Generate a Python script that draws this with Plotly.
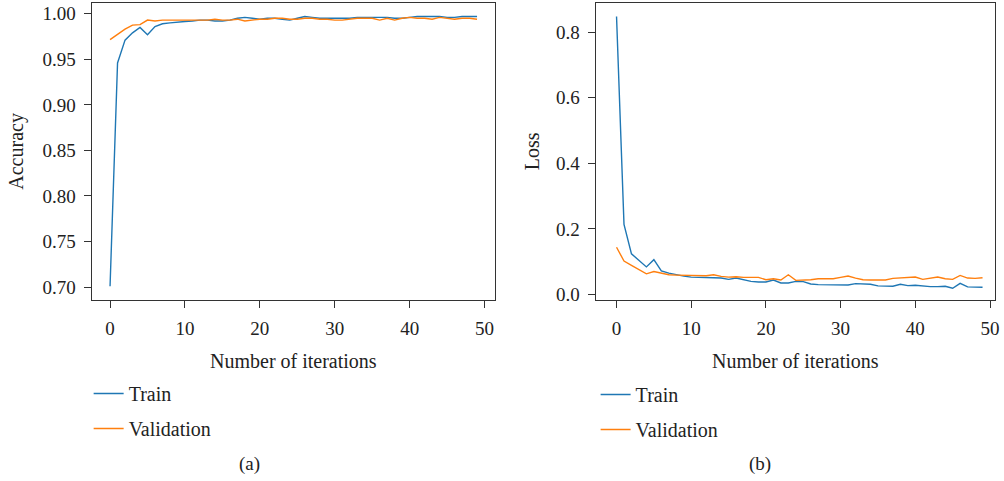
import plotly.graph_objects as go

iterations = list(range(50))

train_acc = [0.701, 0.946, 0.971, 0.979, 0.985, 0.977, 0.986, 0.989, 0.990, 0.991,
             0.9915, 0.992, 0.993, 0.993, 0.992, 0.992, 0.993, 0.995, 0.996, 0.995,
             0.994, 0.995, 0.995, 0.994, 0.993, 0.995, 0.997, 0.996, 0.995, 0.995,
             0.995, 0.995, 0.995, 0.996, 0.996, 0.996, 0.996, 0.996, 0.995, 0.995,
             0.996, 0.997, 0.997, 0.997, 0.997, 0.996, 0.996, 0.997, 0.997, 0.997]
val_acc = [0.9715, 0.977, 0.983, 0.9875, 0.988, 0.993, 0.992, 0.993, 0.993, 0.993,
           0.993, 0.993, 0.993, 0.993, 0.994, 0.993, 0.993, 0.994, 0.992, 0.993,
           0.994, 0.994, 0.995, 0.995, 0.994, 0.994, 0.995, 0.995, 0.994, 0.994,
           0.993, 0.993, 0.994, 0.995, 0.995, 0.995, 0.993, 0.995, 0.993, 0.995,
           0.996, 0.995, 0.995, 0.994, 0.996, 0.995, 0.994, 0.995, 0.995, 0.994]

train_loss = [0.848, 0.214, 0.124, 0.104, 0.084, 0.106, 0.072, 0.065, 0.060, 0.056,
              0.053, 0.053, 0.052, 0.051, 0.050, 0.046, 0.050, 0.045, 0.040, 0.038,
              0.038, 0.044, 0.035, 0.035, 0.040, 0.039, 0.032, 0.030, 0.030, 0.031,
              0.029, 0.029, 0.033, 0.031, 0.031, 0.026, 0.025, 0.025, 0.031, 0.027,
              0.028, 0.025, 0.024, 0.024, 0.025, 0.019, 0.034, 0.023, 0.022, 0.022]
val_loss = [0.144, 0.102, 0.089, 0.076, 0.063, 0.070, 0.065, 0.060, 0.059, 0.059,
            0.058, 0.058, 0.057, 0.060, 0.055, 0.053, 0.054, 0.052, 0.052, 0.052,
            0.045, 0.048, 0.044, 0.060, 0.043, 0.043, 0.045, 0.048, 0.048, 0.048,
            0.052, 0.056, 0.050, 0.045, 0.044, 0.044, 0.044, 0.049, 0.050, 0.052,
            0.053, 0.046, 0.050, 0.053, 0.048, 0.046, 0.058, 0.050, 0.049, 0.051]

acc_ticks = [0.70, 0.75, 0.80, 0.85, 0.90, 0.95, 1.00]
loss_ticks = [0.0, 0.2, 0.4, 0.6, 0.8]
x_ticks = [0, 10, 20, 30, 40, 50]

BLUE = "#1f77b4"
ORANGE = "#ff7f0e"
AX = "#333333"
FONT = "Liberation Serif"

W, H = 1004, 481

fig = go.Figure()

fig.add_trace(go.Scatter(x=iterations, y=train_acc, mode="lines", name="Train",
                         line=dict(color=BLUE, width=1.4), xaxis="x", yaxis="y",
                         legend="legend", legendgroup="a1"))
fig.add_trace(go.Scatter(x=iterations, y=val_acc, mode="lines", name="Validation",
                         line=dict(color=ORANGE, width=1.4), xaxis="x", yaxis="y",
                         legend="legend", legendgroup="a2"))
fig.add_trace(go.Scatter(x=iterations, y=train_loss, mode="lines", name="Train",
                         line=dict(color=BLUE, width=1.4), xaxis="x2", yaxis="y2",
                         legend="legend2", legendgroup="b1"))
fig.add_trace(go.Scatter(x=iterations, y=val_loss, mode="lines", name="Validation",
                         line=dict(color=ORANGE, width=1.4), xaxis="x2", yaxis="y2",
                         legend="legend2", legendgroup="b2"))

def px_x(p):
    return p / W

def px_y(p):
    return 1 - p / H

common_axis = dict(showline=True, mirror=True, linecolor=AX, linewidth=1.2,
                   ticks="outside", ticklen=7, tickwidth=1.2, tickcolor=AX,
                   showgrid=False, zeroline=False,
                   tickfont=dict(family=FONT, size=19, color="#222"),
                   ticklabelstandoff=4)

fig.update_layout(
    width=W, height=H,
    margin=dict(l=0, r=0, t=0, b=0),
    paper_bgcolor="white", plot_bgcolor="white",
    font=dict(family=FONT, color="#222"),
    xaxis=dict(domain=[px_x(92), px_x(497)], anchor="y", range=[-2.46, 51.4],
               tickvals=x_ticks,
               title=dict(text="Number of iterations", font=dict(size=20, family=FONT), standoff=16),
               **common_axis),
    yaxis=dict(domain=[px_y(303), px_y(3)], anchor="x", range=[0.686, 1.0118],
               tickvals=acc_ticks, ticktext=[f"{v:.2f}" for v in acc_ticks],
               title=dict(text="Accuracy", font=dict(size=20, family=FONT), standoff=13),
               **common_axis),
    xaxis2=dict(domain=[px_x(598), px_x(999)], anchor="y2", range=[-2.8, 50.67],
                tickvals=x_ticks,
                title=dict(text="Number of iterations", font=dict(size=20, family=FONT), standoff=16),
                **common_axis),
    yaxis2=dict(domain=[px_y(303), px_y(3)], anchor="x2", range=[-0.0165, 0.8895],
                tickvals=loss_ticks, ticktext=[f"{v:.1f}" for v in loss_ticks],
                title=dict(text="Loss", font=dict(size=20, family=FONT), standoff=10),
                **common_axis),
    legend=dict(x=px_x(89), y=px_y(378), xanchor="left", yanchor="top",
                font=dict(family=FONT, size=20, color="#222"),
                bgcolor="rgba(0,0,0,0)", tracegroupgap=6, traceorder="grouped"),
    legend2=dict(x=px_x(598), y=px_y(379), xanchor="left", yanchor="top",
                 font=dict(family=FONT, size=20, color="#222"),
                 bgcolor="rgba(0,0,0,0)", tracegroupgap=6, traceorder="grouped"),
    showlegend=True,
    annotations=[
        dict(text="(a)", x=px_x(250), y=px_y(469), xref="paper", yref="paper",
             xanchor="center", yanchor="middle",
             showarrow=False, font=dict(family=FONT, size=19, color="#222")),
        dict(text="(b)", x=px_x(763), y=px_y(469), xref="paper", yref="paper",
             xanchor="center", yanchor="middle",
             showarrow=False, font=dict(family=FONT, size=19, color="#222")),
    ],
)

fig.write_html("out.html")
